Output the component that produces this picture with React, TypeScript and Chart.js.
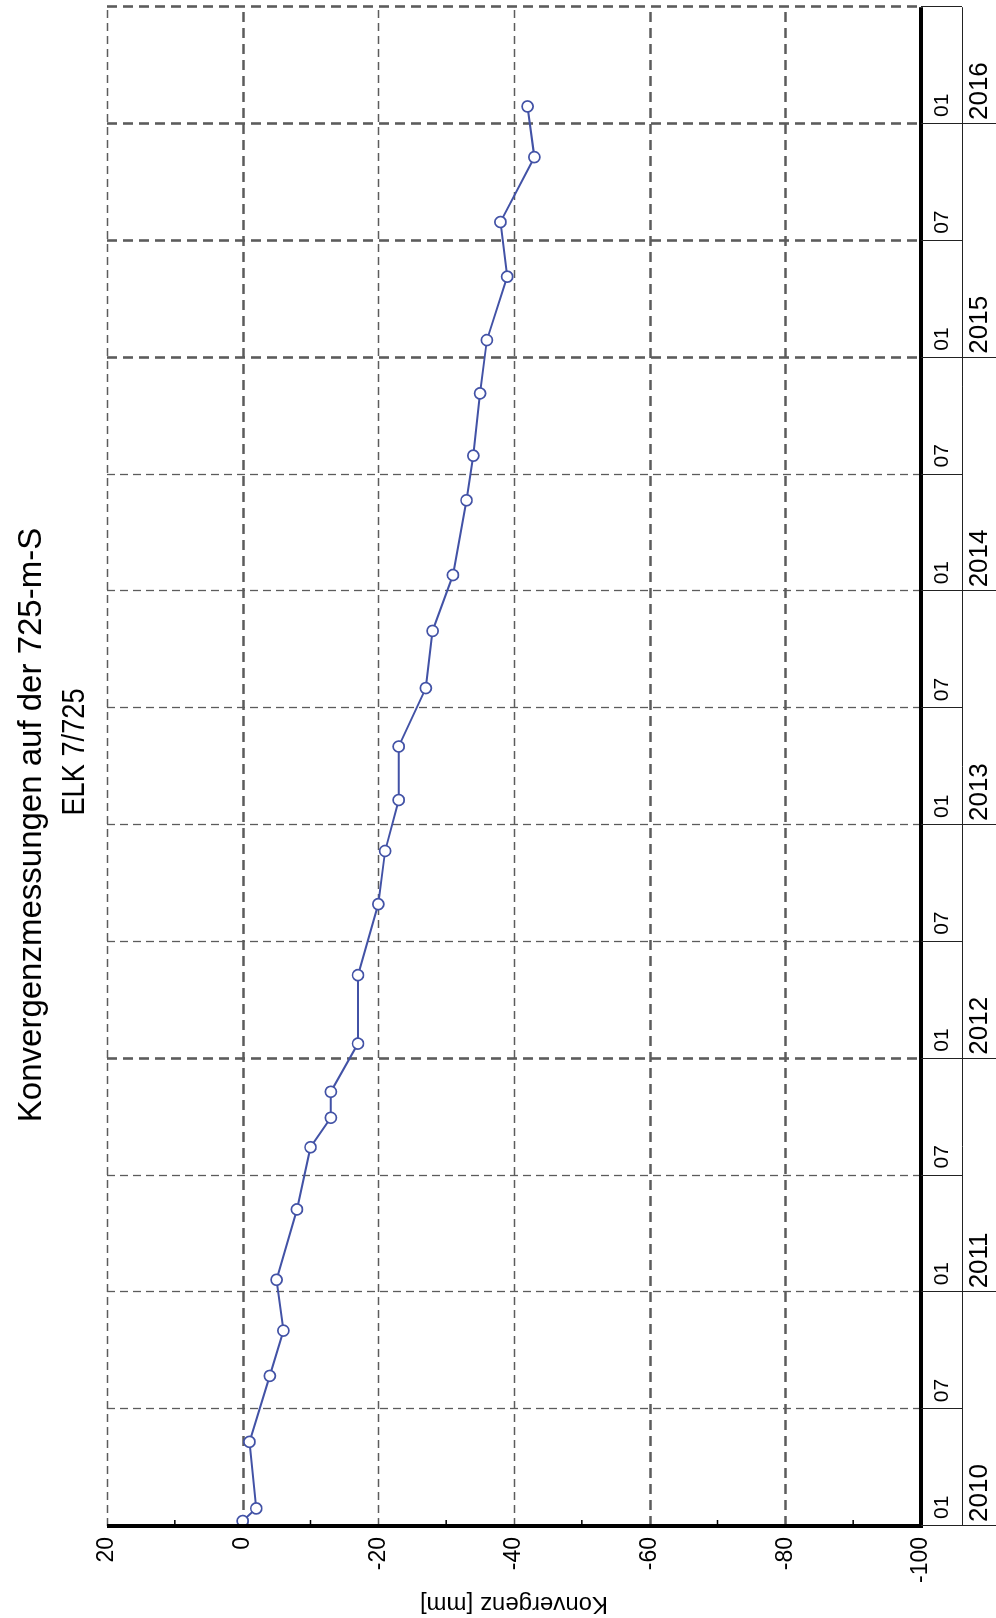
import React, { useEffect, useRef } from "react";
import { Chart, registerables } from "chart.js";

Chart.register(...registerables);

// ---- data ----
const titleLines = ["Konvergenzmessungen auf der 725-m-S", "ELK 7/725"];
const yAxisTitle = "Konvergenz [mm]";

const measureDates = [
  "2010-01-09", "2010-01-29", "2010-05-11", "2010-08-23", "2010-11-02",
  "2011-01-21", "2011-05-09", "2011-08-15", "2011-09-30", "2011-11-10",
  "2012-01-25", "2012-05-10", "2012-08-30", "2012-11-21", "2013-02-09",
  "2013-05-02", "2013-08-02", "2013-10-31", "2014-01-27", "2014-05-22",
  "2014-07-31", "2014-11-06", "2015-01-29", "2015-05-06", "2015-07-31",
  "2015-11-10", "2016-01-29",
];
const convergence = [
  0, -2, -1, -4, -6,
  -5, -8, -10, -13, -13,
  -17, -17, -20, -21, -23,
  -23, -27, -28, -31, -33,
  -34, -35, -36, -39, -38,
  -43, -42,
];

const halfYearTicks = [
  "2010-01", "2010-07", "2011-01", "2011-07", "2012-01", "2012-07", "2013-01",
  "2013-07", "2014-01", "2014-07", "2015-01", "2015-07", "2016-01",
];
const monthLabels = ["01", "07", "01", "07", "01", "07", "01", "07", "01", "07", "01", "07", "01"];
const yearTicks = ["2010-01", "2011-01", "2012-01", "2013-01", "2014-01", "2015-01", "2016-01"];
const yearLabels = ["2010", "2011", "2012", "2013", "2014", "2015", "2016"];
const timeEnd = "2016-07";
const thickTimeLines = ["2012-01", "2015-01", "2015-07", "2016-01", "2016-07"];

const valueMin = -100;
const valueMax = 20;
const valueGrid = [20, 0, -20, -40, -60, -80];
const thickValueLines = [0, -60, -80];
const minorValueTicks = [10, -10, -30, -50, -70, -90];

// months since 2010-01-01
function toMonthIndex(s: string): number {
  const parts = s.split("-").map(Number);
  const yr = parts[0], mo = parts[1], d = parts[2] || 1;
  const dim = new Date(Date.UTC(yr, mo, 0)).getUTCDate();
  return (yr - 2010) * 12 + (mo - 1) + (d - 1) / dim;
}

const FONT = "'Liberation Sans', Arial, Helvetica, sans-serif";
const W = 1618;
const H = 996;

const decor = {
  id: "decor",
  beforeDatasetsDraw(chart: any) {
    const { ctx, chartArea: a, scales } = chart;
    const x = scales.x, y = scales.y;
    ctx.save();
    ctx.strokeStyle = "#5c5c5c";
    valueGrid.forEach((v) => {
      const py = Math.round(y.getPixelForValue(v)) + 0.5;
      const thick = thickValueLines.includes(v);
      ctx.lineWidth = thick ? 2.6 : 1.3;
      ctx.setLineDash(thick ? [10, 6] : [8, 5]);
      ctx.beginPath();
      ctx.moveTo(a.left, py);
      ctx.lineTo(a.right, py);
      ctx.stroke();
    });
    const timeLines = halfYearTicks.slice(1).concat([timeEnd]);
    timeLines.forEach((t) => {
      const px = Math.round(x.getPixelForValue(toMonthIndex(t))) + 0.5;
      const thick = thickTimeLines.includes(t);
      ctx.lineWidth = thick ? 2.6 : 1.3;
      ctx.setLineDash(thick ? [10, 6] : [8, 5]);
      ctx.beginPath();
      ctx.moveTo(px, a.top);
      ctx.lineTo(px, a.bottom);
      ctx.stroke();
    });
    ctx.restore();
  },
  afterDatasetsDraw(chart: any) {
    const { ctx, chartArea: a, scales } = chart;
    const x = scales.x, y = scales.y;
    ctx.save();
    ctx.setLineDash([]);
    ctx.strokeStyle = "#000";
    // minor ticks on value axis
    ctx.lineWidth = 1.5;
    minorValueTicks.forEach((v) => {
      const py = y.getPixelForValue(v);
      ctx.beginPath();
      ctx.moveTo(a.left, py);
      ctx.lineTo(a.left + 6, py);
      ctx.stroke();
    });
    // thick axes
    ctx.lineWidth = 4;
    ctx.beginPath();
    ctx.moveTo(a.left, a.top);
    ctx.lineTo(a.left, a.bottom + 2);
    ctx.stroke();
    ctx.beginPath();
    ctx.moveTo(a.left - 2, a.bottom);
    ctx.lineTo(a.right, a.bottom);
    ctx.stroke();

    // time table
    const rowTop = a.bottom;
    const rowMid = a.bottom + 41;
    const rowBot = H;
    ctx.lineWidth = 1;
    ctx.strokeStyle = "#222";
    const seps = halfYearTicks.concat([timeEnd]);
    seps.forEach((t) => {
      const px = Math.round(x.getPixelForValue(toMonthIndex(t))) + 0.5;
      ctx.beginPath();
      ctx.moveTo(px, rowTop);
      ctx.lineTo(px, rowMid);
      ctx.stroke();
    });
    ctx.beginPath();
    ctx.moveTo(a.left, rowMid + 0.5);
    ctx.lineTo(a.right, rowMid + 0.5);
    ctx.stroke();
    yearTicks.forEach((t) => {
      const px = Math.round(x.getPixelForValue(toMonthIndex(t))) + 0.5;
      ctx.beginPath();
      ctx.moveTo(px, rowMid);
      ctx.lineTo(px, rowBot);
      ctx.stroke();
    });
    ctx.fillStyle = "#000";
    ctx.textBaseline = "middle";
    ctx.textAlign = "left";
    ctx.font = `21px ${FONT}`;
    halfYearTicks.forEach((t, i) => {
      const px = x.getPixelForValue(toMonthIndex(t));
      ctx.fillText(monthLabels[i], px + 7, (rowTop + rowMid) / 2 + 1);
    });
    ctx.font = `26px ${FONT}`;
    yearTicks.forEach((t, i) => {
      const px = x.getPixelForValue(toMonthIndex(t));
      ctx.fillText(yearLabels[i], px + 4, (rowMid + rowBot) / 2 + 1);
    });

    // title
    ctx.textAlign = "center";
    ctx.textBaseline = "alphabetic";
    ctx.font = `33px ${FONT}`;
    ctx.fillText(titleLines[0], 793, 41);
    ctx.save();
    ctx.translate(866, 84);
    ctx.scale(0.85, 1);
    ctx.font = `32px ${FONT}`;
    ctx.fillText(titleLines[1], 0, 0);
    ctx.restore();
    ctx.restore();
  },
};

export default function App() {
  const canvasRef = useRef<HTMLCanvasElement | null>(null);

  useEffect(() => {
    document.body.style.margin = "0";
    const canvas = canvasRef.current;
    if (!canvas) return;
    const points = measureDates.map((d, i) => ({ x: toMonthIndex(d), y: convergence[i] }));
    const chart = new Chart(canvas, {
      type: "line",
      data: {
        datasets: [
          {
            data: points,
            borderColor: "#4252a6",
            borderWidth: 2,
            pointRadius: 5.5,
            pointBorderWidth: 1.7,
            pointBackgroundColor: "#ffffff",
            pointBorderColor: "#4252a6",
            tension: 0,
            clip: false as any,
          },
        ],
      },
      options: {
        animation: false,
        responsive: false,
        devicePixelRatio: 1,
        layout: { padding: { left: 0, right: 7, top: 107, bottom: 75 } },
        plugins: {
          legend: { display: false },
          tooltip: { enabled: false },
          title: { display: false },
        },
        scales: {
          x: {
            type: "linear",
            min: 0,
            max: toMonthIndex(timeEnd),
            display: false,
          },
          y: {
            type: "linear",
            min: valueMin,
            max: valueMax,
            afterFit: (scale: any) => {
              scale.width = 92;
            },
            ticks: {
              stepSize: 20,
              padding: 11,
              color: "#000",
              font: { family: FONT, size: 23 },
            },
            grid: { display: false, drawTicks: false },
            border: { display: false },
            title: {
              display: true,
              text: yAxisTitle,
              color: "#000",
              padding: 0,
              font: { family: FONT, size: 24 },
            },
          },
        },
      },
      plugins: [decor],
    });
    return () => chart.destroy();
  }, []);

  return (
    <div
      style={{
        position: "absolute",
        left: 0,
        top: 0,
        width: 996,
        height: 1618,
        overflow: "hidden",
        background: "#fff",
      }}
    >
      <div
        style={{
          position: "absolute",
          left: 0,
          top: 0,
          width: W,
          height: H,
          transformOrigin: "0 0",
          transform: `translateY(${W}px) rotate(-90deg)`,
        }}
      >
        <canvas ref={canvasRef} width={W} height={H} style={{ width: W, height: H, display: "block" }} />
      </div>
    </div>
  );
}
